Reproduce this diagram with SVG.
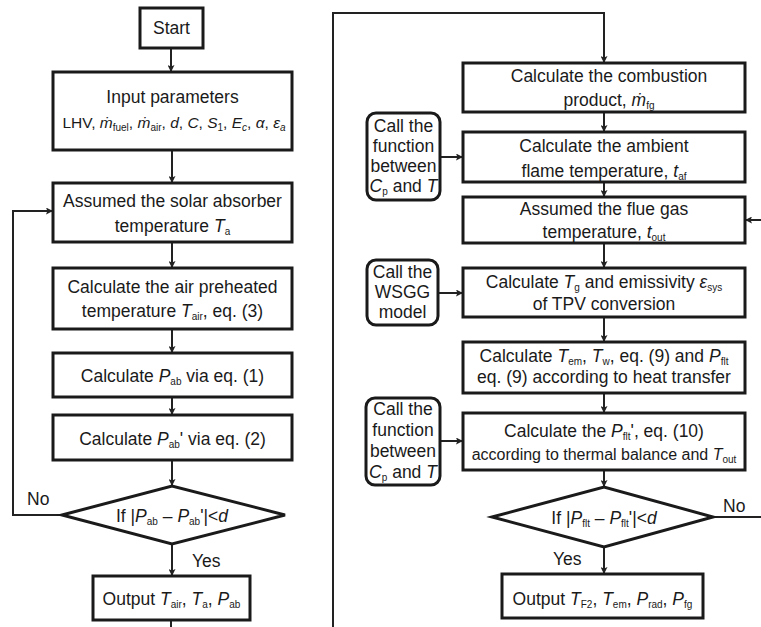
<svg xmlns="http://www.w3.org/2000/svg" width="761" height="627" viewBox="0 0 761 627">
<defs>
<marker id="ah" viewBox="0 0 10 10" refX="10" refY="5" markerWidth="7" markerHeight="7" markerUnits="userSpaceOnUse" orient="auto">
<path d="M0,0 L10,5 L0,10 L2,5 z" fill="#222"/>
</marker>
<style>
text{font-family:"Liberation Sans",Arial,sans-serif;font-size:17.5px;fill:#1a1a1a;text-anchor:middle}
.b{fill:#fff;stroke:#1a1a1a;stroke-width:3}
.c{fill:none;stroke:#222;stroke-width:2}
.a{fill:none;stroke:#222;stroke-width:2;marker-end:url(#ah)}
.i{font-style:italic}
.s{font-size:10px}
.sm{font-size:15.5px}
.md{font-size:16px}
.lbl{text-anchor:start}
</style>
</defs>
<rect width="761" height="627" fill="#fff"/>
<g id="connectors">
<path class="a" d="M171,48 V72"/>
<path class="a" d="M172,150 V183"/>
<path class="a" d="M172,242 V268"/>
<path class="a" d="M172,329 V353"/>
<path class="a" d="M172,397 V415"/>
<path class="a" d="M172,460 V486"/>
<path class="a" d="M172,544 V576"/>
<path class="a" d="M62,515 H13 V211 H53"/>
<path class="c" d="M171,620 V627"/>
<path class="a" d="M333,627 V13 H604 V63"/>
<path class="a" d="M604,112 V132"/>
<path class="a" d="M604,182 V197"/>
<path class="a" d="M604,243 V268"/>
<path class="a" d="M604,317 V342"/>
<path class="a" d="M604,393 V413"/>
<path class="a" d="M604,470 V487"/>
<path class="a" d="M604,547 V574"/>
<path class="a" d="M440,157 H463"/>
<path class="a" d="M438,293 H463"/>
<path class="a" d="M440,441 H463"/>
<path class="c" d="M713,517 H761"/>
<path class="a" d="M761,220 H745"/>
<text class="lbl" x="27" y="505">No</text>
<text class="lbl" x="192" y="567">Yes</text>
<text class="lbl" x="723" y="512">No</text>
<text class="lbl" x="553" y="565">Yes</text>
</g>
<g id="start">
<rect class="b" x="140" y="8" width="63" height="40"/>
<text x="171.5" y="34">Start</text>
</g>
<g id="input">
<rect class="b" x="53" y="72" width="239" height="78"/>
<text x="172.5" y="103">Input parameters</text>
<text class="sm" x="174" y="128">LHV, <tspan class="i">ṁ</tspan><tspan class="s" dy="3">fuel</tspan><tspan dy="-3">, </tspan><tspan class="i">ṁ</tspan><tspan class="s" dy="3">air</tspan><tspan dy="-3">, </tspan><tspan class="i">d</tspan>, <tspan class="i">C</tspan>, <tspan class="i">S</tspan><tspan class="s" dy="3">1</tspan><tspan dy="-3">, </tspan><tspan class="i">E</tspan><tspan class="s i" dy="3">c</tspan><tspan dy="-3">, </tspan><tspan class="i">α</tspan>, <tspan class="i">ε</tspan><tspan class="s i" dy="3">a</tspan></text>
</g>
<g id="assume-ta">
<rect class="b" x="53" y="183" width="239" height="59"/>
<text x="172.5" y="207">Assumed the solar absorber</text>
<text x="172.5" y="232">temperature <tspan class="i">T</tspan><tspan class="s" dy="3">a</tspan></text>
</g>
<g id="calc-tair">
<rect class="b" x="53" y="268" width="239" height="61"/>
<text x="172.5" y="293">Calculate the air preheated</text>
<text x="172.5" y="317">temperature <tspan class="i">T</tspan><tspan class="s" dy="3">air</tspan><tspan dy="-3">, eq. (3)</tspan></text>
</g>
<g id="calc-pab">
<rect class="b" x="53" y="353" width="239" height="44"/>
<text x="172.5" y="382">Calculate <tspan class="i">P</tspan><tspan class="s" dy="3">ab</tspan><tspan dy="-3"> via eq. (1)</tspan></text>
</g>
<g id="calc-pab2">
<rect class="b" x="53" y="415" width="239" height="45"/>
<text x="172.5" y="445">Calculate <tspan class="i">P</tspan><tspan class="s" dy="3">ab</tspan><tspan dy="-3">' via eq. (2)</tspan></text>
</g>
<g id="decision-left">
<path class="b" d="M62,515 L172,486 L285,515 L172,544 Z"/>
<text x="172" y="522">If |<tspan class="i">P</tspan><tspan class="s" dy="3">ab</tspan><tspan dy="-3"> – </tspan><tspan class="i">P</tspan><tspan class="s" dy="3">ab</tspan><tspan dy="-3">'|&lt;</tspan><tspan class="i">d</tspan></text>
</g>
<g id="output-left">
<rect class="b" x="93" y="576" width="157" height="44"/>
<text x="171.5" y="605">Output <tspan class="i">T</tspan><tspan class="s" dy="3">air</tspan><tspan dy="-3">, </tspan><tspan class="i">T</tspan><tspan class="s" dy="3">a</tspan><tspan dy="-3">, </tspan><tspan class="i">P</tspan><tspan class="s" dy="3">ab</tspan></text>
</g>
<g id="combustion">
<rect class="b" x="463" y="63" width="282" height="49"/>
<text x="609" y="82">Calculate the combustion</text>
<text x="609" y="106">product, <tspan class="i">ṁ</tspan><tspan class="s" dy="3">fg</tspan></text>
</g>
<g id="ambient">
<rect class="b" x="463" y="132" width="282" height="50"/>
<text x="604" y="152">Calculate the ambient</text>
<text x="604" y="177">flame temperature, <tspan class="i">t</tspan><tspan class="s" dy="3">af</tspan></text>
</g>
<g id="call-cp1">
<rect class="b" x="367" y="113" width="73" height="87" rx="9"/>
<text x="403.5" y="132">Call the</text>
<text x="403.5" y="152">function</text>
<text x="403.5" y="172">between</text>
<text x="403.5" y="192"><tspan class="i">C</tspan><tspan class="s" dy="3">p</tspan><tspan dy="-3"> and </tspan><tspan class="i">T</tspan></text>
</g>
<g id="flue">
<rect class="b" x="463" y="197" width="282" height="46"/>
<text x="604" y="215">Assumed the flue gas</text>
<text x="604" y="238">temperature, <tspan class="i">t</tspan><tspan class="s" dy="3">out</tspan></text>
</g>
<g id="wsgg">
<rect class="b" x="367" y="260" width="71" height="65" rx="9"/>
<text x="402.5" y="278">Call the</text>
<text x="402.5" y="298">WSGG</text>
<text x="402.5" y="318">model</text>
</g>
<g id="calc-tg">
<rect class="b" x="463" y="268" width="282" height="49"/>
<text x="604" y="288">Calculate <tspan class="i">T</tspan><tspan class="s" dy="3">g</tspan><tspan dy="-3"> and emissivity </tspan><tspan class="i">ε</tspan><tspan class="s" dy="3">sys</tspan></text>
<text x="604" y="310">of TPV conversion</text>
</g>
<g id="calc-tem">
<rect class="b" x="463" y="342" width="282" height="51"/>
<text x="604" y="362">Calculate <tspan class="i">T</tspan><tspan class="s" dy="3">em</tspan><tspan dy="-3">, </tspan><tspan class="i">T</tspan><tspan class="s" dy="3">w</tspan><tspan dy="-3">, eq. (9) and </tspan><tspan class="i">P</tspan><tspan class="s" dy="3">flt</tspan></text>
<text x="604" y="383">eq. (9) according to heat transfer</text>
</g>
<g id="call-cp2">
<rect class="b" x="366" y="398" width="74" height="87" rx="9"/>
<text x="403" y="415">Call the</text>
<text x="403" y="436">function</text>
<text x="403" y="457">between</text>
<text x="403" y="478"><tspan class="i">C</tspan><tspan class="s" dy="3">p</tspan><tspan dy="-3"> and </tspan><tspan class="i">T</tspan></text>
</g>
<g id="calc-pflt">
<rect class="b" x="463" y="413" width="282" height="57"/>
<text x="604" y="437">Calculate the <tspan class="i">P</tspan><tspan class="s" dy="3">flt</tspan><tspan dy="-3">', eq. (10)</tspan></text>
<text class="md" x="604" y="460">according to thermal balance and <tspan class="i">T</tspan><tspan class="s" dy="3">out</tspan></text>
</g>
<g id="decision-right">
<path class="b" d="M492,517 L604,487 L713,517 L604,547 Z"/>
<text x="604" y="524">If |<tspan class="i">P</tspan><tspan class="s" dy="3">flt</tspan><tspan dy="-3"> – </tspan><tspan class="i">P</tspan><tspan class="s" dy="3">flt</tspan><tspan dy="-3">'|&lt;</tspan><tspan class="i">d</tspan></text>
</g>
<g id="output-right">
<rect class="b" x="502" y="574" width="201" height="44"/>
<text x="602.5" y="605">Output <tspan class="i">T</tspan><tspan class="s" dy="3">F2</tspan><tspan dy="-3">, </tspan><tspan class="i">T</tspan><tspan class="s" dy="3">em</tspan><tspan dy="-3">, </tspan><tspan class="i">P</tspan><tspan class="s" dy="3">rad</tspan><tspan dy="-3">, </tspan><tspan class="i">P</tspan><tspan class="s" dy="3">fg</tspan></text>
</g>
</svg>
